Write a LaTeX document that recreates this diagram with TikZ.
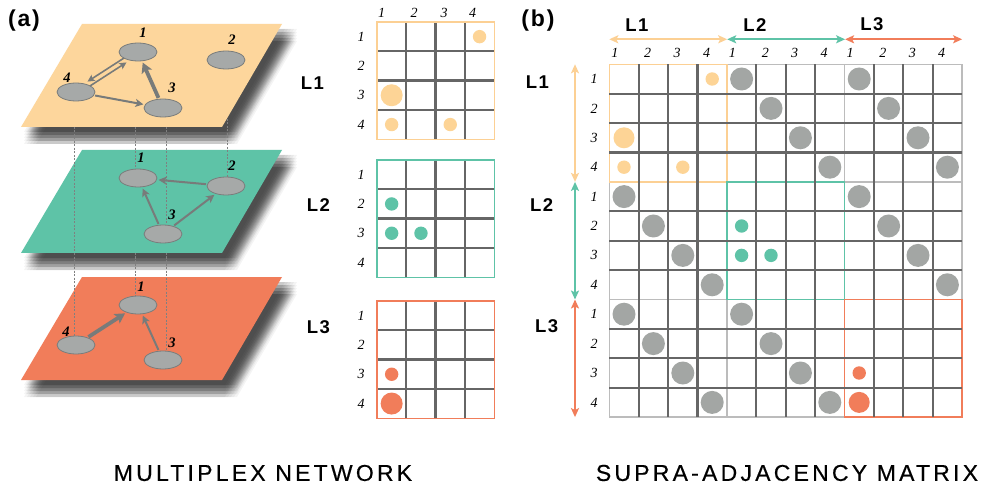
\documentclass[tikz,border=0pt]{standalone}
\usepackage{fontspec}
\setmainfont{Liberation Serif}
\newfontfamily\sansf{Liberation Sans}
\newfontfamily\sanstrack[LetterSpace=14,FakeBold=0.4]{Liberation Sans}
\newfontfamily\sanslab[LetterSpace=8]{Liberation Sans}
\usetikzlibrary{shapes.geometric,arrows.meta}
\definecolor{layA}{RGB}{253,214,156}
\definecolor{orB}{RGB}{252,208,148}
\definecolor{orC}{RGB}{253,212,150}
\definecolor{tealA}{RGB}{94,195,167}
\definecolor{corA}{RGB}{241,125,90}
\definecolor{gridc}{RGB}{102,102,102}
\definecolor{lgrid}{RGB}{188,188,188}
\definecolor{gcirc}{RGB}{163,166,164}
\definecolor{nodefill}{RGB}{166,169,168}
\definecolor{nodeedge}{RGB}{122,125,124}
\definecolor{edgec}{RGB}{120,123,122}
\tikzset{
  gnode/.style={ellipse, fill=nodefill, draw=nodeedge, line width=0.8pt, minimum width=38pt, minimum height=18pt, inner sep=0pt},
  gedge/.style={draw=edgec, line width=2pt, -{Stealth[length=8pt,width=8pt,inset=2pt]}, shorten >=1.5pt, shorten <=1pt},
  gedgethin/.style={draw=edgec, line width=1.6pt, -{Stealth[length=7pt,width=7pt,inset=1.5pt]}, shorten >=1.5pt, shorten <=1pt},
  gthick/.style={draw=edgec, line width=3.8pt, -{Stealth[length=10pt,width=11pt,inset=2pt]}, shorten >=1.5pt, shorten <=1pt},
  glabel/.style={font=\fontsize{14.5}{14.5}\selectfont\bfseries\itshape, inner sep=0pt},
  mlabel/.style={font=\fontsize{14}{14}\selectfont\itshape, inner sep=0pt},
  llabel/.style={font=\sanslab\fontsize{18.5}{18.5}\selectfont\bfseries, inner sep=0pt},
  panlabel/.style={font=\sanslab\fontsize{23}{23}\selectfont\bfseries, inner sep=0pt},
  titlelabel/.style={font=\sanstrack\fontsize{23}{23}\selectfont, inner sep=0pt},
  vline/.style={draw=gray, line width=0.5pt, dash pattern=on 2pt off 1.5pt},
  darkgrid/.style={draw=gridc, line width=2.3pt},
  lgline/.style={draw=lgrid, line width=1.4pt},
  larr/.style={line width=1.8pt, {Stealth[length=9pt,width=8pt,inset=2pt]}-{Stealth[length=9pt,width=8pt,inset=2pt]}},
}
\begin{document}
\begin{tikzpicture}[x=1pt,y=-1pt]
\useasboundingbox (0,0) rectangle (988,489);
\fill[white] (0,0) rectangle (988,489);

% ---------- (a) multiplex network ----------
\node[panlabel] (pa) at (24,21) {(a)};

% soft shadows (box blur of shifted copies)
\foreach \dy in {0,126,253}
  \foreach \sx in {-6,-3,0,3,6}
    \foreach \sy in {-6,-3,0,3,6}
      \fill[black, opacity=0.045, shift={({9+\sx},{11+\sy+\dy})}]
        (82,24) -- (282,24) -- (222,127) -- (21,127) -- cycle;
% layers
\foreach \dy/\c in {0/layA,126/tealA,253/corA}
  \fill[\c, shift={(0,\dy)}] (82,24) -- (282,24) -- (222,127) -- (21,127) -- cycle;

% nodes
\node[gnode] (a1) at (138,52) {};
\node[gnode] (a2) at (226,60) {};
\node[gnode] (a3) at (163,108) {};
\node[gnode] (a4) at (76,92) {};
\node[gnode] (b1) at (138,178) {};
\node[gnode] (b2) at (226,186) {};
\node[gnode] (b3) at (163,234) {};
\node[gnode] (c1) at (138,305) {};
\node[gnode] (c3) at (163,360) {};
\node[gnode] (c4) at (76,345) {};

% inter-layer dashed lines
\coordinate (p4) at (74,127);
\coordinate (p1) at (135,127);
\coordinate (p3) at (166,127);
\coordinate (p2) at (227,119);
\coordinate (q1) at (135,253);
\coordinate (q3) at (166,253);
\draw[vline] (p4) -- (p4 |- c4.north);
\draw[vline] (p1) -- (p1 |- b1.north);
\draw[vline] (p3) -- (p3 |- b3.north);
\draw[vline] (p2) -- (p2 |- b2.north);
\draw[vline] (q1) -- (q1 |- c1.north);
\draw[vline] (q3) -- (q3 |- c3.north);

% edges
\draw[gedge] (a4) -- (a3);
\draw[gthick] (a3) -- (a1);
\draw[gedgethin, transform canvas={shift={(1.4pt,-2.1pt)}}] (a4) -- (a1);
\draw[gedgethin, transform canvas={shift={(-1.4pt,2.1pt)}}] (a1) -- (a4);
\draw[gedge] (b2) -- (b1);
\draw[gedge] (b3) -- (b1);
\draw[gedge] (b3) -- (b2);
\draw[gthick] (c4) -- (c1);
\draw[gedge] (c3) -- (c1);

% node labels
\node[glabel] (la1) at (143,33) {1};
\node[glabel] (la2) at (232,40) {2};
\node[glabel] (la3) at (172,88) {3};
\node[glabel] (la4) at (67,78) {4};
\node[glabel] (lb1) at (141,158) {1};
\node[glabel] (lb2) at (232,166) {2};
\node[glabel] (lb3) at (172,215) {3};
\node[glabel] (lc1) at (141,287) {1};
\node[glabel] (lc4) at (66,332) {4};
\node[glabel] (lc3) at (172,343) {3};

% small matrices
\foreach \yo/\col in {22/orB,160/tealA,301/corA} {
  \foreach \k in {1,2,3} {
    \draw[darkgrid] ({377+\k*29.3},\yo) -- ({377+\k*29.3},{\yo+117.2});
    \draw[darkgrid] (377,{\yo+\k*29.3}) -- (494.2,{\yo+\k*29.3});
  }
  \draw[draw=\col, line width=1.3pt] (377,\yo) rectangle (494.2,{\yo+117.2});
  \foreach \r in {1,...,4}
    \node[mlabel] (sl-\yo-\r) at (361,{\yo+(\r-0.5)*29.3}) {\r};
}
\foreach \x/\n in {381.7/1,414/2,444/3,472.7/4}
  \node[mlabel] (sc-\n) at (\x,12.7) {\n};
% small matrix entries
\foreach \yo/\r/\cc/\rad/\col in {22/1/4/6.7/orC, 22/3/1/11/orC, 22/4/1/6.7/orC, 22/4/3/6.7/orC,
    160/2/1/6.7/tealA, 160/3/1/6.7/tealA, 160/3/2/6.7/tealA,
    301/3/1/6.7/corA, 301/4/1/11/corA}
  \fill[\col] ({377+(\cc-0.5)*29.3},{\yo+(\r-0.5)*29.3}) circle (\rad pt);

\node[llabel] (sL1) at (312.5,83) {L1};
\node[llabel] (sL2) at (318.5,205) {L2};
\node[llabel] (sL3) at (318.5,327) {L3};

\node[titlelabel] (t1) at (263,473) {MULTIPLEX NETWORK};

% ---------- (b) supra-adjacency matrix ----------
\node[panlabel] (pb) at (538,21) {(b)};

\foreach \k in {0,4,8,12} {
  \draw[lgline] ({609.3+\k*29.4},64.3) -- ({609.3+\k*29.4},417.1);
  \draw[lgline] (609.3,{64.3+\k*29.4}) -- (962.1,{64.3+\k*29.4});
}
\foreach \b/\c in {0/orB,4/tealA,8/corA}
  \draw[draw=\c, line width=1.3pt] ({609.3+\b*29.4},{64.3+\b*29.4}) rectangle ++(117.6,117.6);
\foreach \k in {1,2,3,5,6,7,9,10,11} {
  \draw[darkgrid] ({609.3+\k*29.4},64.3) -- ({609.3+\k*29.4},417.1);
  \draw[darkgrid] (609.3,{64.3+\k*29.4}) -- (962.1,{64.3+\k*29.4});
}
% identity blocks
\foreach \a/\b in {0/1,0/2,1/0,1/2,2/0,2/1}
  \foreach \i in {0,1,2,3}
    \fill[gcirc] ({609.3+(4*\b+\i+0.5)*29.4},{64.3+(4*\a+\i+0.5)*29.4}) circle (11.5pt);
% intra-layer entries
\foreach \r/\cc/\rad/\col in {1/4/6.7/orC, 3/1/10.5/orC, 4/1/6.7/orC, 4/3/6.7/orC,
    6/5/6.7/tealA, 7/5/6.7/tealA, 7/6/6.7/tealA,
    11/9/6.7/corA, 12/9/10.5/corA}
  \fill[\col] ({609.3+(\cc-0.5)*29.4},{64.3+(\r-0.5)*29.4}) circle (\rad pt);

% labels of rows and columns
\foreach \r in {0,...,11} {
  \pgfmathtruncatemacro\lab{mod(\r,4)+1}
  \node[mlabel] (br\r) at (594,{64.3+(\r+0.5)*29.4}) {\lab};
}
\foreach \cc in {0,...,11} {
  \pgfmathtruncatemacro\lab{mod(\cc,4)+1}
  \pgfmathsetmacro\off{\lab==1 ? 5.5 : 9}
  \node[mlabel] (bc\cc) at ({609.3+\cc*29.4+\off},53.3) {\lab};
}

% layer arrows
\coordinate (ha0) at (609.3,39.3);
\coordinate (ha1) at (727.2,39.3);
\coordinate (ha2) at (845.1,39.3);
\coordinate (ha3) at (962.1,39.3);
\draw[larr, draw=orB] (ha0) -- (ha1);
\draw[larr, draw=tealA] (ha1) -- (ha2);
\draw[larr, draw=corA] (ha2) -- (ha3);
\coordinate (va0) at (575,64.3);
\coordinate (va1) at (575,181.9);
\coordinate (va2) at (575,299.5);
\coordinate (va3) at (575,417.1);
\draw[larr, draw=orB] (va0) -- (va1);
\draw[larr, draw=tealA] (va1) -- (va2);
\draw[larr, draw=corA] (va2) -- (va3);

\node[llabel] (hL1) at (637,25) {L1};
\node[llabel] (hL2) at (755,25) {L2};
\node[llabel] (hL3) at (872,24) {L3};
\node[llabel] (vL1) at (537.5,82) {L1};
\node[llabel] (vL2) at (541.7,205) {L2};
\node[llabel] (vL3) at (546.7,326) {L3};

\node[titlelabel] (t2) at (787,473) {SUPRA-ADJACENCY MATRIX};
\end{tikzpicture}
\end{document}
